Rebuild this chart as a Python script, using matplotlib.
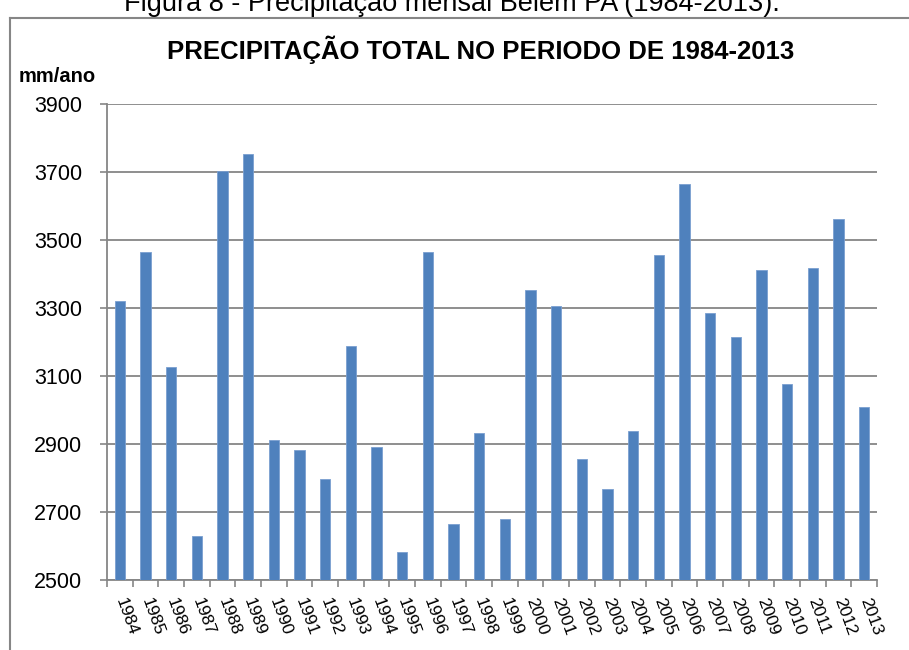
import matplotlib
matplotlib.use('Agg')
import matplotlib.pyplot as plt
from matplotlib.lines import Line2D

# dados (mm/ano)
anos = [str(a) for a in range(1984, 2014)]
precipitacao = [3320, 3464, 3126, 2630, 3704, 3754, 2912, 2882, 2798, 3188,
                2890, 2583, 3465, 2664, 2931, 2679, 3352, 3305, 2855, 2768,
                2939, 3455, 3664, 3286, 3216, 3411, 3077, 3417, 3563, 3008]
y_ticks = list(range(2500, 4000, 200))

titulo = 'PRECIPITAÇÃO TOTAL NO PERIODO DE 1984-2013'
legenda_fig = 'Figura 8 - Precipitação mensal Belém PA (1984-2013).'

plt.rcParams['font.family'] = ['Liberation Sans', 'DejaVu Sans']
cinza = '#868686'
azul = '#4F81BD'

fig = plt.figure(figsize=(9.09, 6.5), dpi=100)
ax = fig.add_axes([107 / 909, 70 / 650, 770 / 909, 476 / 650])

x = list(range(len(anos)))
ax.bar(x, precipitacao, width=0.4, color=azul, edgecolor='#7A9FD0',
       linewidth=0.6, zorder=3)

ax.set_xlim(-0.5, len(anos) - 0.5)
ax.set_ylim(2500, 3900)
ax.set_yticks(y_ticks)
ax.yaxis.grid(True, color=cinza, linewidth=1.3, zorder=0)
ax.tick_params(axis='y', length=5, width=1.2, color=cinza, labelsize=15.5,
               pad=13)

# rotulos no centro, tracinhos nas divisoes
ax.set_xticks(x)
ax.set_xticklabels(anos, fontsize=12.5)
ax.tick_params(axis='x', which='major', length=0, pad=13)
for lab in ax.get_xticklabels():
    lab.set_rotation(-70)
    lab.set_ha('left')
    lab.set_va('center')
    lab.set_rotation_mode('anchor')
ax.set_xticks([i - 0.5 for i in range(len(anos) + 1)], minor=True)
ax.tick_params(axis='x', which='minor', length=5, width=1.2, color=cinza)

for s in ['top', 'right']:
    ax.spines[s].set_visible(False)
for s in ['left', 'bottom']:
    ax.spines[s].set_color(cinza)
    ax.spines[s].set_linewidth(1.3)

fig.text(481 / 909, 1 - 50 / 650, titulo, ha='center', va='center',
         fontsize=18.5, fontweight='bold')
fig.text(57 / 909, 1 - 76 / 650, 'mm/ano', ha='center', va='center',
         fontsize=14.5, fontweight='bold')

# legenda da figura, cortada no topo como na imagem original
fig.text(452 / 909, 1 - 11 / 650, legenda_fig, ha='center', va='baseline',
         fontsize=19.5, color='black')

# moldura do grafico (cortada a direita e embaixo)
fig.add_artist(Line2D([10 / 909, 10 / 909], [0, 1 - 18 / 650],
                      transform=fig.transFigure, color=cinza, linewidth=1.5))
fig.add_artist(Line2D([10 / 909, 1], [1 - 18 / 650, 1 - 18 / 650],
                      transform=fig.transFigure, color=cinza, linewidth=1.5))

fig.savefig('out.png', dpi=100, facecolor='white')
